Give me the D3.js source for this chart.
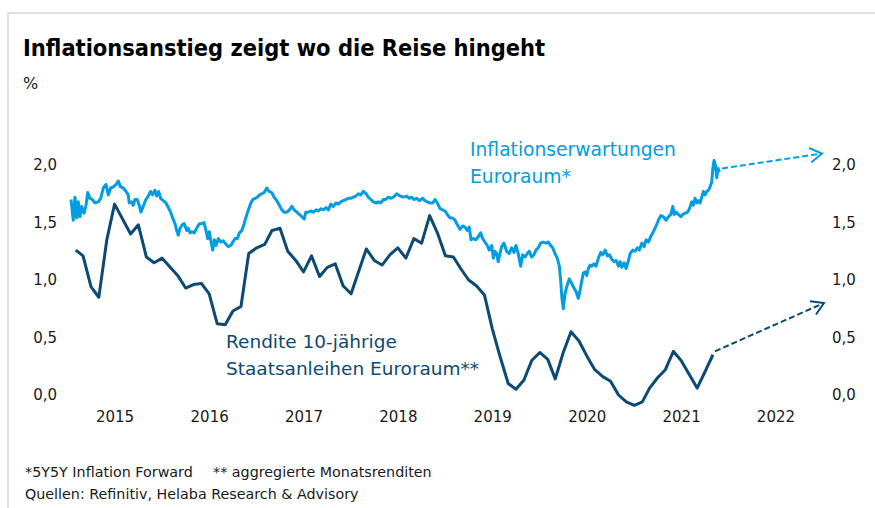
<!DOCTYPE html>
<html>
<head>
<meta charset="utf-8">
<script src="https://cdn.jsdelivr.net/npm/d3@7"></script>
<style>
  body { margin: 0; background: #fff; }
  svg text { font-family: "DejaVu Sans", sans-serif; fill: #1a1a1a; }
</style>
</head>
<body>
<div id="chart"></div>
<script>
// tick labels
const yearTicks = [2015, 2016, 2017, 2018, 2019, 2020, 2021, 2022];
const valueTicks = [0, 0.5, 1.0, 1.5, 2.0];

// Rendite 10-jährige Staatsanleihen Euroraum, Monatswerte (%)
const yieldMonths = [
  "2015-01","2015-02","2015-03","2015-04","2015-05","2015-06","2015-08","2015-09","2015-10","2015-11","2015-12",
  "2016-02","2016-03","2016-04","2016-05","2016-06","2016-07","2016-08","2016-09","2016-10","2016-11","2016-12",
  "2017-01","2017-02","2017-03","2017-04","2017-05","2017-06","2017-07","2017-08","2017-09","2017-10","2017-11","2017-12",
  "2018-02","2018-03","2018-04","2018-05","2018-06","2018-07","2018-08","2018-09","2018-10","2018-11","2018-12",
  "2019-01","2019-02","2019-03","2019-04","2019-05","2019-06","2019-07","2019-08","2019-09","2019-10","2019-11","2019-12",
  "2020-01","2020-02","2020-03","2020-04","2020-05","2020-06","2020-07","2020-08","2020-09","2020-10","2020-11","2020-12",
  "2021-01","2021-02","2021-03","2021-04","2021-05","2021-06","2021-07","2021-08","2021-09","2021-10"
];
const yieldValues = [
  1.26, 1.21, 0.94, 0.85, 1.35, 1.66, 1.40, 1.48, 1.20, 1.15, 1.19,
  1.04, 0.93, 0.96, 0.97, 0.88, 0.62, 0.61, 0.73, 0.77, 1.23, 1.28,
  1.31, 1.43, 1.45, 1.25, 1.17, 1.07, 1.21, 1.03, 1.11, 1.14, 0.95, 0.88,
  1.27, 1.17, 1.13, 1.22, 1.28, 1.19, 1.36, 1.32, 1.56, 1.41, 1.21,
  1.20, 1.10, 1.00, 0.95, 0.87, 0.58, 0.33, 0.10, 0.05, 0.13, 0.30, 0.37,
  0.31, 0.14, 0.37, 0.55, 0.47, 0.34, 0.22, 0.16, 0.12, 0.00, -0.06, -0.09,
  -0.06, 0.06, 0.15, 0.22, 0.38, 0.30, 0.18, 0.06, 0.20, 0.35
];

// Inflationserwartungen Euroraum (5Y5Y), Zeitpunkte als Dezimaljahre
const inflDates = [
  2015.034, 2015.058, 2015.076, 2015.094, 2015.111, 2015.129, 2015.147, 2015.172, 2015.193, 2015.211,
  2015.235, 2015.260, 2015.288, 2015.323, 2015.349, 2015.376, 2015.405, 2015.429, 2015.454, 2015.482,
  2015.511, 2015.535, 2015.560, 2015.588, 2015.617, 2015.641, 2015.651, 2015.677, 2015.694, 2015.712,
  2015.736, 2015.757, 2015.775, 2015.800, 2015.828, 2015.853, 2015.878, 2015.899, 2015.924, 2015.942,
  2015.963, 2015.984, 2016.012, 2016.040, 2016.065, 2016.090, 2016.111, 2016.136, 2016.154, 2016.171,
  2016.189, 2016.213, 2016.234, 2016.260, 2016.276, 2016.294, 2016.319, 2016.340, 2016.365, 2016.393,
  2016.418, 2016.443, 2016.464, 2016.482, 2016.499, 2016.517, 2016.535, 2016.552, 2016.570, 2016.594,
  2016.620, 2016.647, 2016.676, 2016.700, 2016.726, 2016.747, 2016.771, 2016.796, 2016.817, 2016.842,
  2016.867, 2016.888, 2016.912, 2016.938, 2016.959, 2016.983, 2017.007, 2017.029, 2017.054, 2017.078,
  2017.107, 2017.131, 2017.160, 2017.184, 2017.213, 2017.240, 2017.266, 2017.290, 2017.319, 2017.346,
  2017.372, 2017.396, 2017.425, 2017.452, 2017.478, 2017.502, 2017.520, 2017.548, 2017.573, 2017.601,
  2017.629, 2017.654, 2017.679, 2017.707, 2017.735, 2017.760, 2017.785, 2017.812, 2017.841, 2017.865,
  2017.891, 2017.918, 2017.947, 2017.971, 2017.997, 2018.024, 2018.053, 2018.077, 2018.103, 2018.130,
  2018.159, 2018.183, 2018.209, 2018.236, 2018.265, 2018.289, 2018.315, 2018.342, 2018.368, 2018.395,
  2018.421, 2018.448, 2018.484, 2018.519, 2018.554, 2018.590, 2018.618, 2018.643, 2018.667, 2018.696,
  2018.724, 2018.759, 2018.784, 2018.808, 2018.837, 2018.865, 2018.890, 2018.914, 2018.943, 2018.971,
  2018.996, 2019.020, 2019.049, 2019.077, 2019.102, 2019.126, 2019.155, 2019.183, 2019.208, 2019.232,
  2019.253, 2019.271, 2019.296, 2019.324, 2019.349, 2019.374, 2019.395, 2019.419, 2019.444, 2019.465,
  2019.491, 2019.508, 2019.525, 2019.543, 2019.560, 2019.578, 2019.596, 2019.621, 2019.649, 2019.677,
  2019.702, 2019.727, 2019.748, 2019.772, 2019.798, 2019.819, 2019.843, 2019.868, 2019.889, 2019.914,
  2019.939, 2019.960, 2019.984, 2020.009, 2020.037, 2020.066, 2020.090, 2020.115, 2020.137, 2020.161,
  2020.185, 2020.207, 2020.221, 2020.235, 2020.249, 2020.267, 2020.285, 2020.312, 2020.338, 2020.362,
  2020.383, 2020.408, 2020.426, 2020.444, 2020.461, 2020.479, 2020.497, 2020.514, 2020.532, 2020.550,
  2020.574, 2020.595, 2020.620, 2020.645, 2020.666, 2020.691, 2020.715, 2020.736, 2020.762, 2020.786,
  2020.807, 2020.832, 2020.850, 2020.868, 2020.892, 2020.913, 2020.938, 2020.956, 2020.984, 2021.008,
  2021.033, 2021.054, 2021.079, 2021.104, 2021.125, 2021.149, 2021.175, 2021.202, 2021.231, 2021.255,
  2021.281, 2021.308, 2021.337, 2021.361, 2021.387, 2021.408, 2021.422, 2021.443, 2021.467, 2021.493,
  2021.514, 2021.538, 2021.563, 2021.584, 2021.609, 2021.626, 2021.644, 2021.662, 2021.679, 2021.697,
  2021.715, 2021.732, 2021.750, 2021.768, 2021.785, 2021.803, 2021.820, 2021.831, 2021.845, 2021.859,
  2021.874, 2021.888, 2021.901
];
const inflValues = [
  1.70, 1.52, 1.72, 1.54, 1.68, 1.55, 1.64, 1.58, 1.65, 1.76,
  1.71, 1.70, 1.67, 1.68, 1.71, 1.80, 1.83, 1.74, 1.80, 1.81,
  1.83, 1.86, 1.81, 1.80, 1.77, 1.74, 1.67, 1.68, 1.65, 1.70,
  1.70, 1.65, 1.59, 1.64, 1.70, 1.73, 1.77, 1.74, 1.78, 1.73,
  1.77, 1.71, 1.69, 1.67, 1.63, 1.59, 1.54, 1.49, 1.43, 1.39,
  1.45, 1.48, 1.49, 1.43, 1.45, 1.41, 1.42, 1.41, 1.45, 1.49,
  1.49, 1.50, 1.43, 1.36, 1.42, 1.33, 1.26, 1.35, 1.30, 1.36,
  1.33, 1.34, 1.31, 1.29, 1.30, 1.33, 1.36, 1.36, 1.41, 1.43,
  1.49, 1.55, 1.61, 1.67, 1.70, 1.71, 1.72, 1.74, 1.75, 1.76,
  1.80, 1.77, 1.76, 1.72, 1.69, 1.65, 1.61, 1.59, 1.59, 1.61,
  1.64, 1.61, 1.59, 1.57, 1.55, 1.53, 1.59, 1.59, 1.60, 1.59,
  1.61, 1.60, 1.62, 1.61, 1.63, 1.61, 1.66, 1.64, 1.67, 1.66,
  1.68, 1.69, 1.70, 1.71, 1.71, 1.72, 1.73, 1.75, 1.74, 1.77,
  1.75, 1.72, 1.70, 1.68, 1.67, 1.68, 1.67, 1.70, 1.70, 1.72,
  1.71, 1.72, 1.75, 1.73, 1.72, 1.73, 1.71, 1.72, 1.70, 1.71,
  1.69, 1.71, 1.69, 1.68, 1.67, 1.67, 1.70, 1.67, 1.62, 1.61,
  1.60, 1.57, 1.54, 1.54, 1.52, 1.48, 1.44, 1.47, 1.46, 1.43,
  1.46, 1.35, 1.36, 1.35, 1.38, 1.41, 1.36, 1.33, 1.30, 1.26,
  1.30, 1.19, 1.25, 1.23, 1.16, 1.23, 1.29, 1.32, 1.25, 1.23,
  1.28, 1.24, 1.30, 1.23, 1.12, 1.22, 1.20, 1.23, 1.25, 1.20,
  1.22, 1.26, 1.28, 1.32, 1.33, 1.32, 1.33, 1.30, 1.28, 1.23,
  1.19, 1.12, 1.00, 0.84, 0.75, 0.88, 0.94, 1.01, 0.97, 0.93,
  0.90, 0.84, 0.91, 0.99, 1.06, 1.07, 1.04, 1.10, 1.13, 1.12,
  1.14, 1.12, 1.19, 1.24, 1.22, 1.26, 1.21, 1.22, 1.18, 1.16,
  1.17, 1.12, 1.16, 1.11, 1.15, 1.10, 1.17, 1.23, 1.26, 1.25,
  1.28, 1.26, 1.32, 1.29, 1.35, 1.33, 1.38, 1.42, 1.47, 1.52,
  1.56, 1.55, 1.52, 1.55, 1.57, 1.64, 1.57, 1.59, 1.57, 1.55,
  1.57, 1.58, 1.59, 1.62, 1.68, 1.65, 1.71, 1.67, 1.69, 1.67,
  1.72, 1.77, 1.74, 1.77, 1.78, 1.81, 1.85, 1.96, 2.04, 2.00,
  1.89, 1.97, 1.94
];

// Pfeile (Ausblick): Start- und Zielpunkt
const inflArrowDates = [2021.930, 2022.989];
const inflArrowValues = [1.97, 2.10];
const yieldArrowDates = [2021.855, 2023.010];
const yieldArrowValues = [0.38, 0.80];

const width = 875, height = 508;
const colLight = "#009ee0", colDark = "#0c4a73";

const svg = d3.select("#chart").append("svg")
  .attr("width", width)
  .attr("height", height);

// Kartenrahmen
svg.append("rect")
  .attr("x", 8).attr("y", 13)
  .attr("width", 900).attr("height", 520)
  .attr("fill", "none")
  .attr("stroke", "#e3e3e3")
  .attr("stroke-width", 2);

function fromDecimal(t) {
  const yr = Math.floor(t);
  const a = new Date(yr, 0, 1), b = new Date(yr + 1, 0, 1);
  return new Date(+a + (t - yr) * (b - a));
}
const parseMonth = d3.timeParse("%Y-%m");
// Monatswerte am Monatsende
const monthEnd = (s) => d3.timeMonth.offset(parseMonth(s), 1);

const x = d3.scaleTime()
  .domain([new Date(2015, 0, 1), new Date(2023, 0, 1)])
  .range([67.8, 823]);

const y = d3.scaleLinear()
  .domain([0, 2])
  .range([395, 165]);

const de = d3.formatLocale({ decimal: ",", thousands: ".", grouping: [3], currency: ["", " €"] });
const fmt = de.format(".1f");

const yLeft = svg.append("g")
  .attr("transform", "translate(57,0)")
  .call(d3.axisLeft(y).tickValues(valueTicks).tickFormat(fmt).tickSize(0).tickPadding(0));
const yRight = svg.append("g")
  .attr("transform", "translate(832,0)")
  .call(d3.axisRight(y).tickValues(valueTicks).tickFormat(fmt).tickSize(0).tickPadding(0));
const xAxis = svg.append("g")
  .attr("transform", `translate(0,${y(0)})`)
  .call(d3.axisBottom(x)
    .tickValues(yearTicks.map((yr) => new Date(yr, 6, 1)))
    .tickFormat(d3.timeFormat("%Y"))
    .tickSize(0).tickPadding(16));

[yLeft, yRight, xAxis].forEach((g) => {
  g.select(".domain").remove();
  g.selectAll("text").attr("font-size", 15).attr("font-family", null).attr("fill", "#1a1a1a");
});

const yieldData = yieldMonths.map((m, i) => ({ date: monthEnd(m), value: yieldValues[i] }));
const inflData = inflDates.map((t, i) => ({ date: fromDecimal(t), value: inflValues[i] }));

const line = d3.line()
  .x((d) => x(d.date))
  .y((d) => y(d.value));

svg.append("path")
  .datum(inflData)
  .attr("d", line)
  .attr("fill", "none")
  .attr("stroke", colLight)
  .attr("stroke-width", 3)
  .attr("stroke-linejoin", "round");

svg.append("path")
  .datum(yieldData)
  .attr("d", line)
  .attr("fill", "none")
  .attr("stroke", colDark)
  .attr("stroke-width", 3)
  .attr("stroke-linejoin", "round");

// gestrichelte Pfeile
function arrow(dates, values, color) {
  const p0 = [x(fromDecimal(dates[0])), y(values[0])];
  const p1 = [x(fromDecimal(dates[1])), y(values[1])];
  svg.append("line")
    .attr("x1", p0[0]).attr("y1", p0[1])
    .attr("x2", p1[0]).attr("y2", p1[1])
    .attr("stroke", color)
    .attr("stroke-width", 2)
    .attr("stroke-dasharray", "6,3");
  const ang = Math.atan2(p1[1] - p0[1], p1[0] - p0[0]);
  const len = 14, spread = 0.55;
  const head = [
    [p1[0] - len * Math.cos(ang - spread), p1[1] - len * Math.sin(ang - spread)],
    p1,
    [p1[0] - len * Math.cos(ang + spread), p1[1] - len * Math.sin(ang + spread)]
  ];
  svg.append("path")
    .attr("d", d3.line()(head))
    .attr("fill", "none")
    .attr("stroke", color)
    .attr("stroke-width", 2);
}
arrow(inflArrowDates, inflArrowValues, colLight);
arrow(yieldArrowDates, yieldArrowValues, colDark);

// Texte
svg.append("text")
  .attr("x", 23).attr("y", 56)
  .attr("font-size", 23.4)
  .attr("font-weight", "bold")
  .style("font-family", "'DejaVu Sans Condensed', 'DejaVu Sans', sans-serif")
  .style("fill", "#000")
  .text("Inflationsanstieg zeigt wo die Reise hingeht");

svg.append("text")
  .attr("x", 23).attr("y", 89)
  .attr("font-size", 16)
  .text("%");

const lightLabel = svg.append("text")
  .attr("font-size", 18.7)
  .style("fill", colLight);
lightLabel.append("tspan").attr("x", 470).attr("y", 156).text("Inflationserwartungen");
lightLabel.append("tspan").attr("x", 470).attr("y", 183).text("Euroraum*");

const darkLabel = svg.append("text")
  .attr("font-size", 18.5)
  .style("fill", colDark);
darkLabel.append("tspan").attr("x", 226).attr("y", 348).text("Rendite 10-jährige");
darkLabel.append("tspan").attr("x", 226).attr("y", 375).text("Staatsanleihen Euroraum**");

svg.append("text")
  .attr("x", 25).attr("y", 477)
  .attr("font-size", 14.3)
  .text("*5Y5Y Inflation Forward");
svg.append("text")
  .attr("x", 213).attr("y", 477)
  .attr("font-size", 14.3)
  .text("** aggregierte Monatsrenditen");
svg.append("text")
  .attr("x", 25).attr("y", 499)
  .attr("font-size", 14.3)
  .text("Quellen: Refinitiv, Helaba Research & Advisory");
</script>
</body>
</html>
